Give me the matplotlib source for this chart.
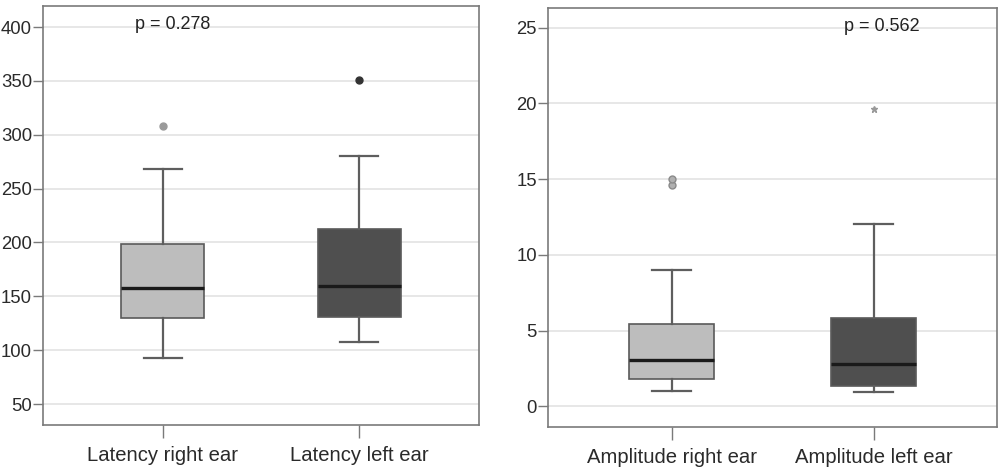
import matplotlib
matplotlib.use("Agg")
import matplotlib.pyplot as plt

plt.rcParams['font.family'] = ['Liberation Sans', 'DejaVu Sans']

# ---- data ----
lat_labels = ["Latency right ear", "Latency left ear"]
lat_whislo = [92.6, 107.7]
lat_q1 = [129.7, 130.6]
lat_med = [158.1, 159.6]
lat_q3 = [198.3, 212.1]
lat_whishi = [267.8, 280.5]
lat_fliers = [[307.9], [350.6]]
lat_p = "p = 0.278"
lat_ticks = [50, 100, 150, 200, 250, 300, 350, 400]

amp_labels = ["Amplitude right ear", "Amplitude left ear"]
amp_whislo = [1.0, 0.95]
amp_q1 = [1.83, 1.32]
amp_med = [3.04, 2.82]
amp_q3 = [5.43, 5.85]
amp_whishi = [9.0, 12.04]
amp_fliers = [[14.63, 14.98], [19.6]]
amp_p = "p = 0.562"
amp_ticks = [0, 5, 10, 15, 20, 25]

box_colors = ["#bdbdbd", "#4f4f4f"]
flier_styles = [
    [dict(marker='o', markersize=5, markerfacecolor='#9a9a9a', markeredgecolor='#9a9a9a'),
     dict(marker='o', markersize=5, markerfacecolor='#333333', markeredgecolor='#333333')],
    [dict(marker='o', markersize=5, markerfacecolor='#b0b0b0', markeredgecolor='#8a8a8a'),
     dict(marker='*', markersize=4.5, markerfacecolor='#999999', markeredgecolor='#999999')],
]

fig = plt.figure(figsize=(10.05, 4.69), dpi=100)
ax1 = fig.add_axes([0.0428, 0.0938, 0.4338, 0.8934])
ax2 = fig.add_axes([0.5453, 0.0896, 0.4468, 0.8934])

def draw(ax, labels, wlo, q1, med, q3, whi, fliers, ticks, ylim, ptxt, px, fst):
    stats = []
    for i in range(len(labels)):
        stats.append(dict(label=labels[i], whislo=wlo[i], q1=q1[i], med=med[i],
                          q3=q3[i], whishi=whi[i], fliers=[]))
    positions = [1, 2]
    bp = ax.bxp(stats, positions=positions, widths=0.423, patch_artist=True,
                showfliers=False,
                boxprops=dict(edgecolor='#5a5a5a', linewidth=1.2),
                medianprops=dict(color='#1a1a1a', linewidth=2.4),
                whiskerprops=dict(color='#5e5e5e', linewidth=1.6),
                capprops=dict(color='#5e5e5e', linewidth=1.6),
                capwidths=0.19, zorder=3)
    for patch, c in zip(bp['boxes'], box_colors):
        patch.set_facecolor(c)
    for i, f in enumerate(fliers):
        ax.plot([positions[i]] * len(f), f, linestyle='none', zorder=4, **fst[i])
    ax.set_xlim(0.389, 2.611)
    ax.set_ylim(*ylim)
    ax.set_yticks(ticks)
    ax.set_xticks(positions)
    ax.set_xticklabels(labels)
    ax.grid(axis='y', color='#e0e0e0', linewidth=1.1, zorder=0)
    ax.set_axisbelow(True)
    for s in ax.spines.values():
        s.set_color('#7a7a7a')
        s.set_linewidth(1.2)
    ax.tick_params(axis='y', direction='out', length=7, width=1, color='#7a7a7a',
                   labelsize=13.3, labelcolor='#2a2a2a', pad=1)
    ax.tick_params(axis='x', direction='out', length=9, width=1, color='#7a7a7a',
                   labelsize=14.6, labelcolor='#2a2a2a', pad=6)
    ax.text(px, 0.955, ptxt, transform=ax.transAxes, ha='center', va='center',
            fontsize=13, color='#222222')

draw(ax1, lat_labels, lat_whislo, lat_q1, lat_med, lat_q3, lat_whishi, lat_fliers,
     lat_ticks, (30.5, 419.5), lat_p, 0.298, flier_styles[0])
draw(ax2, amp_labels, amp_whislo, amp_q1, amp_med, amp_q3, amp_whishi, amp_fliers,
     amp_ticks, (-1.37, 26.3), amp_p, 0.743, flier_styles[1])

fig.savefig("out.png", dpi=100)
